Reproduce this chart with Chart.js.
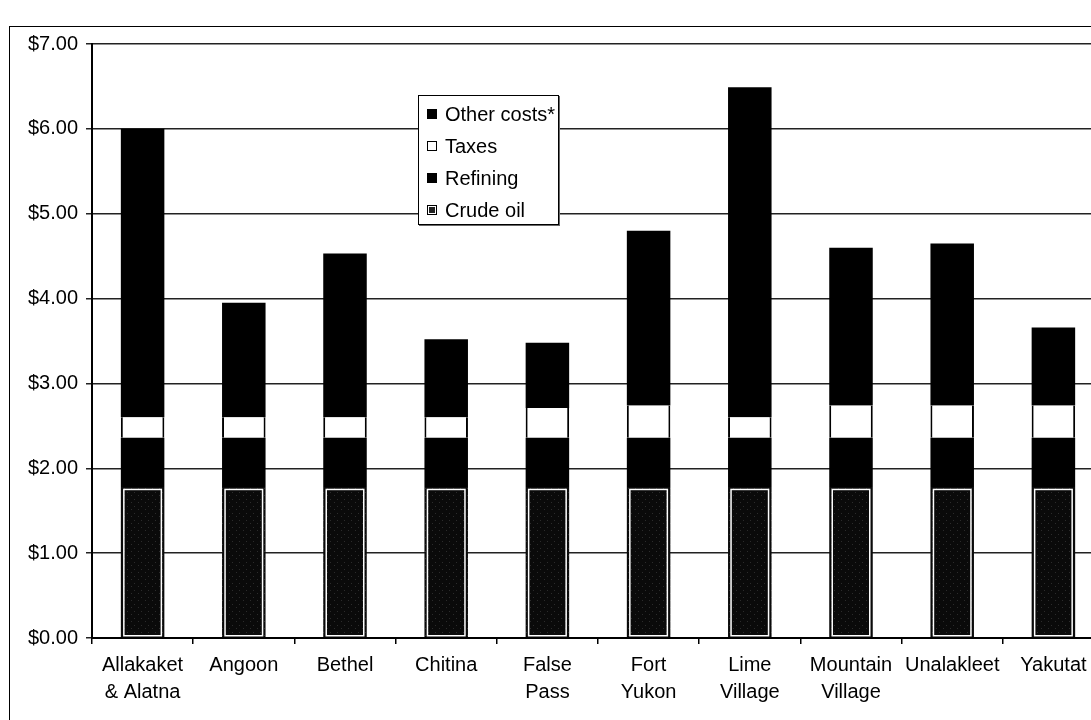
<!DOCTYPE html>
<html>
<head>
<meta charset="utf-8">
<script src="https://cdn.jsdelivr.net/npm/chart.js"></script>
<style>
    html, body { margin: 0; padding: 0; background: #fff; overflow: hidden; }
    body { width: 1091px; height: 720px; position: relative; }
    #frame {
        position: absolute; left: 9px; top: 26px; width: 1200px; height: 800px;
        border-left: 1.5px solid #000; border-top: 1.5px solid #000;
    }
    #wrap { position: absolute; left: 0; top: 0; width: 1120px; height: 720px; }
    #legend {
        position: absolute; left: 418px; top: 95px; width: 139px; height: 126px;
        border: 1.5px solid #000; background: #fff; box-shadow: 1px 1px 0 #666;
        font-family: 'Liberation Sans', Arial, sans-serif; font-size: 20px; color: #000;
        padding-top: 2px; box-sizing: content-box;
    }
    #legend .row { height: 32px; display: flex; align-items: center; white-space: nowrap; }
    #legend .box { width: 10px; height: 10px; margin: 0 8px 0 8px; box-sizing: border-box; }
</style>
</head>
<body>
<div id="frame"></div>
<div id="wrap"><canvas id="myChart"></canvas></div>
<div id="legend"></div>
<script>
    // per gallon price components
    const communities = [
        ['Allakaket', '& Alatna'], 'Angoon', 'Bethel', 'Chitina', ['False', 'Pass'],
        ['Fort', 'Yukon'], ['Lime', 'Village'], ['Mountain', 'Village'], 'Unalakleet', 'Yakutat'
    ];
    const crudeOil = [1.78, 1.78, 1.78, 1.78, 1.78, 1.78, 1.78, 1.78, 1.78, 1.78];
    const refining = [0.58, 0.58, 0.58, 0.58, 0.58, 0.58, 0.58, 0.58, 0.58, 0.58];
    const taxes = [0.24, 0.24, 0.24, 0.24, 0.35, 0.38, 0.24, 0.38, 0.38, 0.38];
    const otherCosts = [3.40, 1.35, 1.93, 0.92, 0.77, 2.06, 3.89, 1.86, 1.91, 0.92];
    const yTicks = [0, 1, 2, 3, 4, 5, 6, 7];

    Chart.defaults.font.family = "'Liberation Sans', Arial, sans-serif";
    Chart.defaults.font.size = 20;
    Chart.defaults.color = '#000';

    // dark speckled fill for the crude oil part
    let pc = document.createElement('canvas');
    pc.width = 7; pc.height = 7;
    let pctx = pc.getContext('2d');
    pctx.fillStyle = '#0a0a0a';
    pctx.fillRect(0, 0, 7, 7);
    pctx.fillStyle = '#2c2c2c';
    pctx.fillRect(1, 2, 1, 1);
    pctx.fillRect(5, 5, 1, 1);
    let crudeFill = document.getElementById('myChart').getContext('2d').createPattern(pc, 'repeat');

    const legendBoxes = {
        'Other costs*': 'background:#000;',
        'Taxes': 'background:#fff;border:1.5px solid #000;',
        'Refining': 'background:#000;',
        'Crude oil': 'background:#222;border:1.5px solid #000;box-shadow:inset 0 0 0 1px #fff;'
    };

    // white inner outline on crude oil bars
    const crudeOutline = {
        id: 'crudeOutline',
        afterDatasetsDraw(chart){
            let meta = chart.getDatasetMeta(0);
            let ctx = chart.ctx;
            ctx.save();
            ctx.strokeStyle = '#fff';
            ctx.lineWidth = 1.5;
            meta.data.forEach(function(bar){
                let p = bar.getProps(['x', 'y', 'base', 'width'], true);
                let l = p.x - p.width / 2 + 3;
                let r = p.x + p.width / 2 - 3;
                ctx.strokeRect(l, p.y + 2.5, r - l, p.base - p.y - 4);
            });
            ctx.restore();
        }
    };

    const htmlLegend = {
        id: 'htmlLegend',
        afterUpdate(chart){
            let el = document.getElementById('legend');
            el.innerHTML = '';
            chart.data.datasets.slice().reverse().forEach(function(ds){
                let row = document.createElement('div');
                row.className = 'row';
                row.innerHTML = '<span class="box" style="' + legendBoxes[ds.label] + '"></span><span>' + ds.label + '</span>';
                el.appendChild(row);
            });
        }
    };

    new Chart(document.getElementById('myChart'), {
        type: 'bar',
        data: {
            labels: communities,
            datasets: [
                {label: 'Crude oil', data: crudeOil, backgroundColor: crudeFill, borderWidth: 0},
                {label: 'Refining', data: refining, backgroundColor: '#000', borderWidth: 0},
                {
                    label: 'Taxes', data: taxes, backgroundColor: '#fff', borderColor: '#000',
                    borderWidth: {left: 2, right: 2, top: 0, bottom: 0}, borderSkipped: false
                },
                {label: 'Other costs*', data: otherCosts, backgroundColor: '#000', borderWidth: 0}
            ]
        },
        options: {
            responsive: true,
            maintainAspectRatio: false,
            animation: false,
            datasets: {bar: {barPercentage: 0.43, categoryPercentage: 1}},
            layout: {padding: {top: 44, left: 0, right: 16, bottom: 0}},
            plugins: {legend: {display: false}, tooltip: {enabled: false}},
            scales: {
                x: {
                    stacked: true,
                    afterFit: function(scale){ scale.height = 82; },
                    grid: {offset: true, drawOnChartArea: false, color: '#000', tickLength: 6, lineWidth: 1.5},
                    border: {display: true, color: '#000', width: 2},
                    ticks: {maxRotation: 0, autoSkip: false, padding: 8, font: {size: 20, lineHeight: 1.35}}
                },
                y: {
                    stacked: true,
                    min: yTicks[0],
                    max: yTicks[yTicks.length - 1],
                    afterFit: function(scale){ scale.width = 92; },
                    afterBuildTicks: function(scale){ scale.ticks = yTicks.map(function(v){ return {value: v}; }); },
                    grid: {color: '#222', lineWidth: 1.5, tickLength: 6},
                    border: {display: true, color: '#000', width: 2},
                    ticks: {padding: 8, callback: function(v){ return '$' + Number(v).toFixed(2); }}
                }
            }
        },
        plugins: [crudeOutline, htmlLegend]
    });
</script>
</body>
</html>
